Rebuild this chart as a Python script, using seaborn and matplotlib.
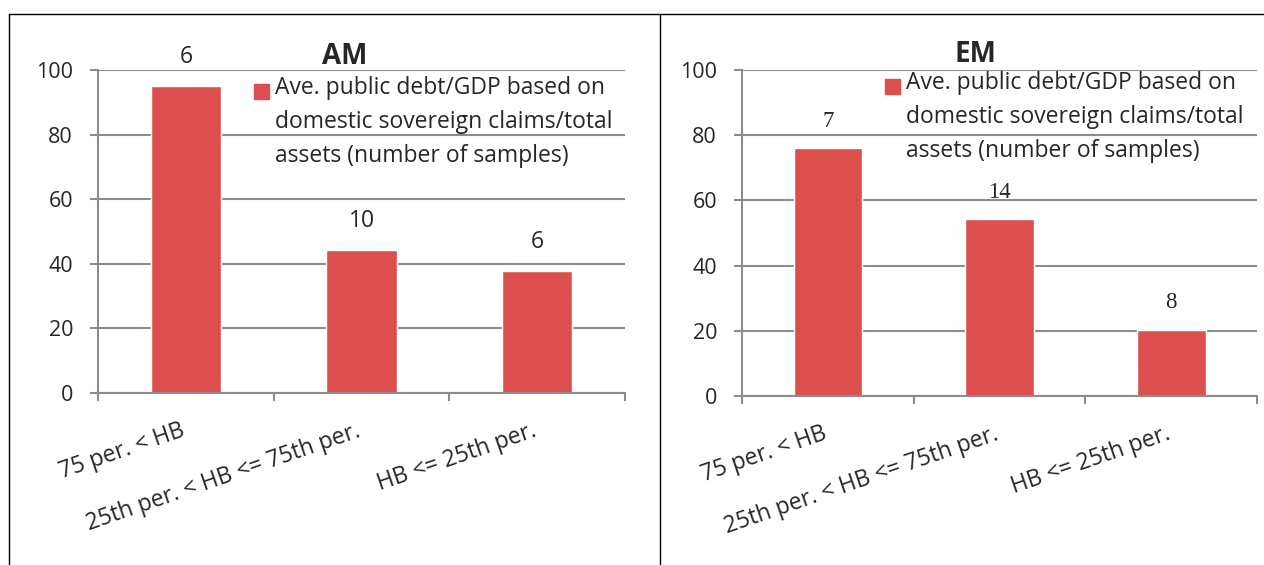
import matplotlib
matplotlib.use("Agg")
import matplotlib.pyplot as plt
from matplotlib.lines import Line2D
from matplotlib.patches import Rectangle
import seaborn as sns
import pandas as pd

# Categories (house-bias buckets)
categories = ["75 per. < HB", "25th per. < HB <= 75th per.", "HB <= 25th per."]

# Average public debt/GDP per bucket
am_values = [95, 44.3, 37.8]
em_values = [76, 54.2, 20.3]

# Number of samples per bucket
am_counts = ["6", "10", "6"]
em_counts = ["7", "14", "8"]

titles = ["AM", "EM"]
legend_label = "Ave. public debt/GDP based on\ndomestic sovereign claims/total\nassets (number of samples)"
yticks = [0, 20, 40, 60, 80, 100]

sns.set_style("white")
plt.rcParams["font.family"] = ["Open Sans", "DejaVu Sans"]

BAR = "#dc4f4e"
GRID = "#8c8c8c"
W, H = 1264, 565

fig = plt.figure(figsize=(W / 100, H / 100), dpi=100)


def fx(px):
    return px / W


def fy(py):
    return (H - py) / H


ax1 = fig.add_axes([fx(98), fy(393), fx(625) - fx(98), fy(70) - fy(393)])
ax2 = fig.add_axes([fx(742), fy(396), fx(1257) - fx(742), fy(70) - fy(396)])

panels = [
    (ax1, am_values, am_counts, ["Open Sans", "DejaVu Sans"]),
    (ax2, em_values, em_counts, ["Liberation Serif", "DejaVu Serif"]),
]

for ax, vals, counts, label_family in panels:
    df = pd.DataFrame({"category": categories, "value": vals})
    sns.barplot(data=df, x="category", y="value", color=BAR, width=0.4,
                saturation=1, ax=ax, zorder=3)
    ax.set_xlim(-0.5, 2.5)
    ax.set_ylim(0, 100)
    ax.set_yticks(yticks)
    ax.set_xlabel("")
    ax.set_ylabel("")
    ax.yaxis.grid(True, color=GRID, linewidth=1.5, zorder=0)
    ax.xaxis.grid(False)
    ax.set_axisbelow(True)
    for side in ["top", "right"]:
        ax.spines[side].set_visible(False)
    for side in ["left", "bottom"]:
        ax.spines[side].set_color(GRID)
        ax.spines[side].set_linewidth(1.5)
        ax.spines[side].set_zorder(4)
    ax.tick_params(axis="y", which="major", length=6, width=1.5, color=GRID,
                   pad=12, labelsize=15.5, left=True)
    ax.set_xticks([0, 1, 2])
    ax.set_xticklabels(categories, rotation=19, ha="right", va="baseline",
                       rotation_mode="anchor", fontsize=16.5)
    ax.tick_params(axis="x", which="major", length=0, pad=31)
    ax.set_xticks([-0.5, 0.5, 1.5, 2.5], minor=True)
    ax.tick_params(axis="x", which="minor", length=6, width=1.5, color=GRID,
                   bottom=True)
    ax.bar_label(ax.containers[0], labels=counts, padding=12, fontsize=16.5,
                 family=label_family)

# Panel titles
fig.text(fx(345), fy(64), titles[0], ha="center", va="baseline",
         fontsize=20, fontweight="bold")
fig.text(fx(975), fy(62), titles[1], ha="center", va="baseline",
         fontsize=20, fontweight="bold")

# Legends: square key beside a three-line label
for kx, ky, tx, ty in [(254, 84, 275, 76), (885, 79, 906, 71)]:
    fig.patches.append(Rectangle((fx(kx), fy(ky + 15)), fx(15), 15 / H,
                                 transform=fig.transFigure, color=BAR))
    fig.text(fx(tx), fy(ty), legend_label, ha="left", va="top",
             fontsize=16.5, linespacing=1.55)

# Panel frames
for xs, ys in [([fx(9), fx(9)], [fy(14), 0]),
               ([fx(9), 1], [fy(14), fy(14)]),
               ([fx(660), fx(660)], [fy(14), 0])]:
    fig.add_artist(Line2D(xs, ys, color="black", linewidth=1.0,
                          transform=fig.transFigure))

fig.savefig("out.png", dpi=100)
